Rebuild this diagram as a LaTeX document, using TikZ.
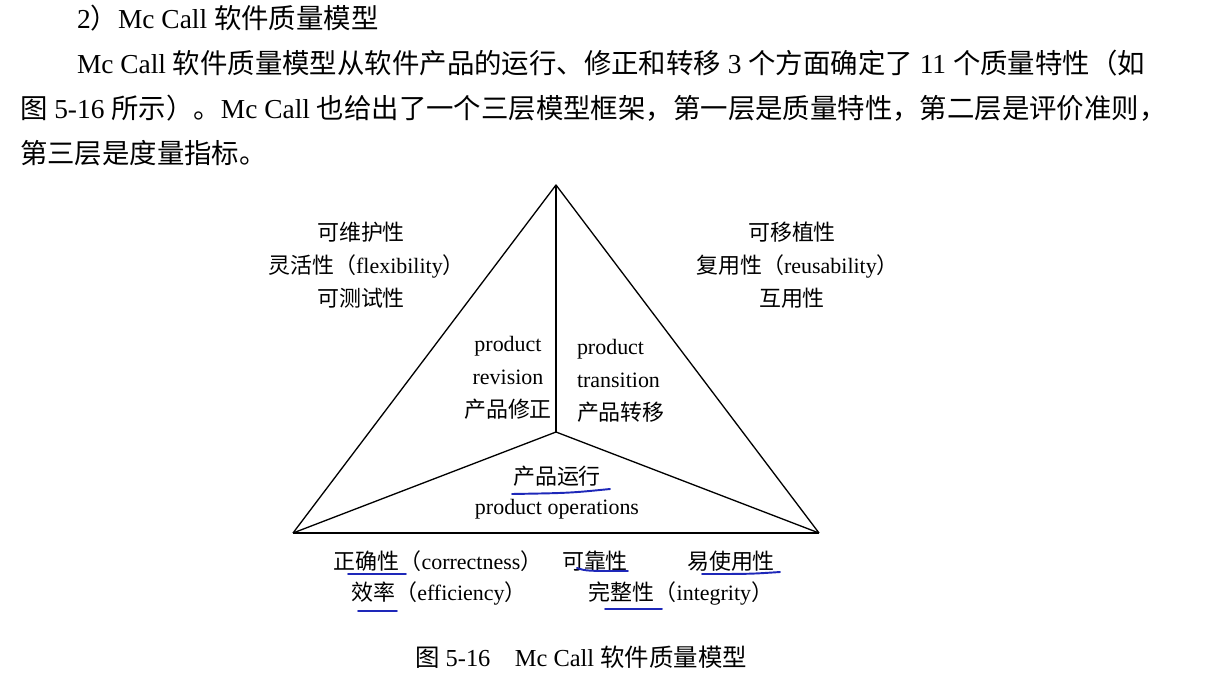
\documentclass[tikz,border=0pt]{standalone}
\usepackage{fontspec}
\setmainfont{Liberation Serif}
\newfontfamily\zhfont{Noto Sans CJK SC}
\usepackage{tikz}
\usetikzlibrary{positioning}
\definecolor{penblue}{RGB}{30,40,185}

\begin{document}
\begin{tikzpicture}[x=0.02cm, y=-0.02cm, every node/.style={inner sep=0pt, outer sep=0pt}]
\tikzstyle{body}=[anchor=west, font=\fontsize{15.6}{18}\selectfont]
\tikzstyle{lab}=[align=center, font=\fontsize{12.5}{18.6}\selectfont]
\tikzstyle{edge}=[line width=0.75pt, line join=round]
\tikzstyle{pen}=[draw=penblue, line width=1.1pt, line cap=round]
\useasboundingbox (0,0) rectangle (1227,679);

% running text above the figure
\node[body] (title) at (77,18) {2{\zhfont ）}Mc Call {\zhfont 软件质量模型}};
\node[body] (para1) at (77,63) {Mc Call {\zhfont 软件质量模型从软件产品的运行、修正和转移} 3 {\zhfont 个方面确定了} 11 {\zhfont 个质量特性（如}};
\node[body] (para2) at (20,108) {{\zhfont 图} 5-16 {\zhfont 所示）。}Mc Call {\zhfont 也给出了一个三层模型框架，第一层是质量特性，第二层是评价准则，}};
\node[body] (para3) at (20,153) {{\zhfont 第三层是度量指标。}};

% the triangle
\coordinate (apex) at (556,185);
\coordinate (lv) at (293,533);
\coordinate (rv) at (819,533);
\coordinate (mid) at (556,432);
\draw[edge] (lv) -- (apex) -- (rv);
\draw[edge] (apex) -- (mid);
\draw[edge] (lv) -- (mid) -- (rv);
\draw[line width=1.45pt] (lv) -- (rv);

% the three sides
\node[lab] (revision) at (508,378) {product\\revision\\{\zhfont 产品修正}};
\node[lab, align=left, anchor=west] (transition) at (577,381) {product\\transition\\{\zhfont 产品转移}};
\node[lab, font=\fontsize{12.5}{17}\selectfont] (operation) at (557,493) {{\zhfont 产品运行}\\product operations};

% quality factors
\node[lab] (revq) at (361,265) {{\zhfont 可维护性}\\{\zhfont 灵活性（}flexibility{\zhfont ）}\kern-0.5em\\{\zhfont 可测试性}};
\node[lab] (tranq) at (792,265) {{\zhfont 可移植性}\\{\zhfont 复用性（}reusability{\zhfont ）}\kern-0.5em\\{\zhfont 互用性}};
\node[lab] (correct) at (438,561) {{\zhfont 正确性（}correctness{\zhfont ）}};
\node[lab] (reliable) at (595,561) {{\zhfont 可靠性}};
\node[lab] (usable) at (731,561) {{\zhfont 易使用性}};
\node[lab] (efficient) at (439,593) {{\zhfont 效率（}efficiency{\zhfont ）}};
\node[lab] (integrity) at (681,593) {{\zhfont 完整性（}integrity{\zhfont ）}};

\node[font=\fontsize{13.9}{16}\selectfont] (caption) at (581,657) {{\zhfont 图} 5-16\quad Mc Call {\zhfont 软件质量模型}};

% hand-drawn marks
\draw[pen] (512,494) .. controls (570,493) .. (610,489);
\draw[pen] (348,574) -- (406,574);
\draw[pen] (358,611) -- (397,611);
\draw[pen] (577,568) .. controls (586,571) .. (628,571);
\draw[pen] (702,574) .. controls (750,574) .. (780,572);
\draw[pen] (605,609) -- (662,609);
\end{tikzpicture}
\end{document}
